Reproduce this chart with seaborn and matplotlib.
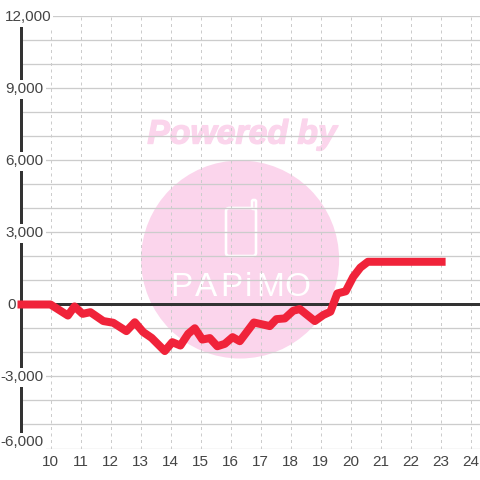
import matplotlib
matplotlib.use("Agg")
import matplotlib.pyplot as plt
from matplotlib.patches import Ellipse, FancyBboxPatch, Rectangle
from matplotlib.transforms import offset_copy
import matplotlib.patheffects as pe
import seaborn as sns
import pandas as pd

hours = [8.9, 10, 10.58, 10.8, 11.07, 11.33, 11.76, 12.09, 12.53, 12.81, 13.09, 13.37, 13.81,
         14.06, 14.33, 14.59, 14.81, 15.06, 15.31, 15.56, 15.81, 16.07, 16.31, 16.78,
         17.31, 17.53, 17.81, 18.09, 18.31, 18.81, 19.09, 19.33, 19.56, 19.84, 20.09,
         20.33, 20.58, 23.17]
profit = [0, 0, -460, -80, -390, -320, -690, -760, -1110, -740, -1150, -1390, -1940,
          -1570, -1710, -1220, -990, -1460, -1400, -1740, -1640, -1360, -1530, -750,
          -900, -610, -580, -260, -190, -690, -440, -300, 460, 550, 1150,
          1540, 1780, 1780]
x_ticks = list(range(10, 25))
y_major = [12000, 9000, 6000, 3000, 0, -3000, -6000]
y_major_labels = ["12,000", "9,000", "6,000", "3,000", "0", "-3,000", "-6,000"]
y_grid = list(range(-6000, 12001, 1000))
logo_letters = ["P", "A", "P", "i", "M", "O"]
logo_centres = [181, 206, 231, 248, 270, 297]

PX = 0.72
TXT = "#444444"
PINK = "#fbd5ec"

sns.set_style("white")
plt.rcParams["font.family"] = ["Liberation Sans", "DejaVu Sans"]

fig = plt.figure(figsize=(4.8, 4.8), dpi=100)
L, R, T, B = 20.5, 480, 16.5, 448.5
ax = fig.add_axes([L / 480, 1 - B / 480, (R - L) / 480, (B - T) / 480])
ax.set_xlim(9, 9 + (R - L) / 30)
ax.set_ylim(-6000, 12000)
ax.set_axisbelow(True)
ax.patch.set_facecolor("white")

# watermark
ax.add_patch(Ellipse((16.32, 1875), 198 / 30, 198 / 24 * 1000, fc=PINK, ec="none", zorder=0.1))

def fx(p):
    return p / 480
def fy(p):
    return 1 - p / 480

tf = fig.transFigure
ax.text(fx(242), fy(135), "Powered by", transform=tf, ha="center", va="center",
        fontsize=24.3, fontweight="bold", fontstyle="italic", color=PINK, zorder=0.1,
        family=["Liberation Sans"],
        path_effects=[pe.withStroke(linewidth=1.0, foreground=PINK)])
ax.add_patch(FancyBboxPatch((fx(226), fy(256)), 30 / 480, 48 / 480,
                            boxstyle="round,pad=0,rounding_size=0.007", transform=tf,
                            fc="none", ec="white", lw=2.6 * PX, zorder=0.2))
ax.add_patch(FancyBboxPatch((fx(252), fy(209)), 4 / 480, 9 / 480,
                            boxstyle="round,pad=0,rounding_size=0.003", transform=tf,
                            fc=PINK, ec="white", lw=2.6 * PX, zorder=0.25))
for cx, ch in zip(logo_centres, logo_letters):
    ax.text(fx(cx), fy(288), ch, transform=tf, ha="center", va="center",
            fontsize=24, color="white", zorder=0.3, family=["Liberation Sans"])

# grid
ax.set_xticks(x_ticks)
ax.set_yticks(y_grid)
ax.set_yticklabels([])
ax.tick_params(axis="both", length=0)
ax.tick_params(axis="x", labelsize=11, labelcolor=TXT, pad=5)
ax.grid(True, axis="y", color="#cccccc", lw=1.3 * PX)
ax.grid(True, axis="x", color="#cccccc", lw=1.0 * PX, ls=(0, (3, 3.5)))

for s in ["top", "right", "bottom"]:
    ax.spines[s].set_visible(False)
ax.spines["left"].set_color("#333333")
ax.spines["left"].set_linewidth(3 * PX)

ax.axhline(0, color="#333333", lw=3 * PX, zorder=2)

df = pd.DataFrame({"hour": hours, "profit": profit})
sns.lineplot(data=df, x="hour", y="profit", color="#f0233a", lw=8 * PX, ax=ax, zorder=3,
             errorbar=None, sort=False, solid_capstyle="butt", solid_joinstyle="round",
             clip_on=False)
ax.set_xlabel("")
ax.set_ylabel("")

# white panel behind the lowest label, which sits above its gridline
ax.add_patch(Rectangle((fx(14), fy(452)), 32 / 480, 18 / 480, transform=tf, fc="white",
                       ec="none", zorder=9, clip_on=False))

right_edge = {"12,000": 51, "0": 16}
shift_up = {"-6,000": 6}
for v, lab in zip(y_major, y_major_labels):
    xr = right_edge.get(lab, 43.5)
    bbox = None if lab == "0" else dict(fc="white", ec="none", pad=1.6)
    label_tf = offset_copy(ax.get_yaxis_transform(), fig=fig, x=0,
                           y=shift_up.get(lab, -1), units="dots")
    ax.text((xr - L) / (R - L), v, lab, transform=label_tf, ha="right",
            va="center", fontsize=11, color=TXT, zorder=10, clip_on=False, bbox=bbox)

fig.savefig("out.png", dpi=100)
